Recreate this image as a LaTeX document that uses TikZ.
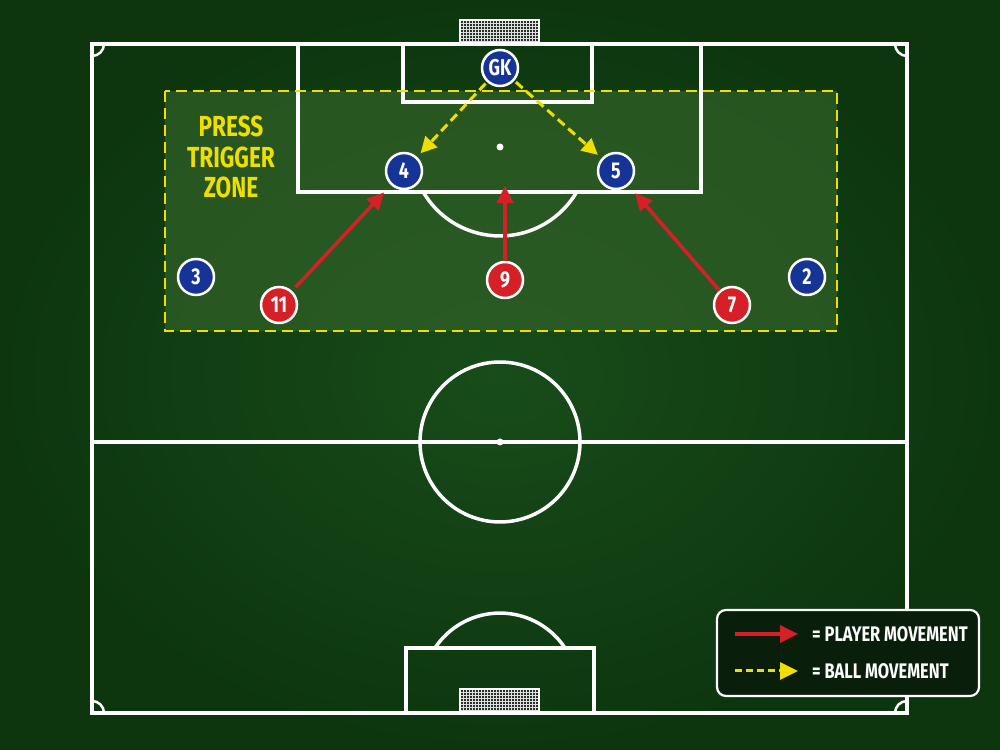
\documentclass[tikz,border=0pt]{standalone}
\usepackage{fontspec}
\setmainfont{Fira Sans}[FakeStretch=0.78]
\usetikzlibrary{arrows.meta}
\definecolor{bgin}{RGB}{24,76,26}
\definecolor{bgout}{RGB}{13,54,15}
\definecolor{zonefill}{RGB}{50,98,40}
\definecolor{kitblue}{RGB}{22,52,150}
\definecolor{kitred}{RGB}{214,32,40}
\definecolor{zoneyellow}{RGB}{240,222,0}
\definecolor{legendfill}{RGB}{10,30,12}
\definecolor{netfill}{RGB}{38,48,38}
\tikzset{pitchline/.style={white,line width=0.07cm}}
\tikzset{netline/.style={white!75!gray,line width=0.25pt}}
\tikzset{blueplayer/.style={circle,fill=kitblue,draw=white,line width=0.05cm,minimum size=0.72cm,inner sep=0pt,text=white,font=\bfseries\fontsize{13}{13}\selectfont}}
\tikzset{redplayer/.style={blueplayer,fill=kitred}}
\tikzset{playermove/.style={kitred,line width=0.07cm,-{Triangle[length=0.34cm,width=0.32cm]}}}
\tikzset{ballmove/.style={zoneyellow,line width=0.06cm,dash pattern=on 0.18cm off 0.1cm,-{Triangle[length=0.32cm,width=0.32cm]}}}

\begin{document}
\begin{tikzpicture}[x=0.02cm,y=0.02cm]
	\useasboundingbox (0,0) rectangle (1000,750);
	\shade[inner color=bgin,outer color=bgout] (0,0) rectangle (1000,750);
	% press trigger zone
	\fill[zonefill,fill opacity=0.7] (165,659) rectangle (837,419);
	% pitch markings
	\draw[pitchline] (92,37) rectangle (907,706);
	\draw[pitchline] (92,308) -- (907,308);
	\draw[pitchline] (500,308) circle (1.6cm);
	\fill[white] (500,308) circle (0.07cm);
	\draw[pitchline] (298,706) rectangle (701,558);
	\draw[pitchline] (403,706) rectangle (592,648);
	\fill[white] (500,603) circle (0.07cm);
	\draw[pitchline] (423.2,558) arc[start angle=210.4,end angle=329.6,radius=1.78cm];
	\draw[pitchline] (406,37) rectangle (594,102);
	\draw[pitchline] (565,102) arc[start angle=33.5,end angle=146.5,radius=1.56cm];
	% corners
	\draw[pitchline,line width=0.05cm] (104,706) arc[start angle=0,end angle=-90,radius=0.24cm];
	\draw[pitchline,line width=0.05cm] (895,706) arc[start angle=180,end angle=270,radius=0.24cm];
	\draw[pitchline,line width=0.05cm] (92,49) arc[start angle=90,end angle=0,radius=0.24cm];
	\draw[pitchline,line width=0.05cm] (895,37) arc[start angle=180,end angle=90,radius=0.24cm];
	% goals
	\foreach \y in {706,37}{
		\fill[netfill] (460,\y) rectangle (539,\y+24);
		\foreach \i in {1,...,25}{
			\draw[netline] (460+3*\i,\y) -- (460+3*\i,\y+24);
		}
		\foreach \j in {1,...,7}{
			\draw[netline] (460,\y+3*\j) -- (539,\y+3*\j);
		}
		\draw[pitchline,line width=0.05cm] (460,\y) rectangle (539,\y+24);
	}
	\draw[pitchline] (92,706) -- (907,706);
	\draw[pitchline] (92,37) -- (907,37);
	\draw[zoneyellow,line width=0.05cm,dash pattern=on 0.22cm off 0.12cm] (165,659) rectangle (837,419);
	\node[align=center,text=zoneyellow,font=\bfseries\fontsize{16.5}{17.6}\selectfont] (zonelabel) at (231,593) {PRESS\\TRIGGER\\ZONE};

	% players
	\node[blueplayer] (gk) at (500,682) {GK};
	\node[blueplayer] (p4) at (404,579) {4};
	\node[blueplayer] (p5) at (616,579) {5};
	\node[blueplayer] (p3) at (196,473) {3};
	\node[blueplayer] (p2) at (807,473) {2};
	\node[redplayer] (p11) at (279,445) {11};
	\node[redplayer] (p9) at (505,470) {9};
	\node[redplayer] (p7) at (732,445) {7};
	\coordinate (goalline) at (505,564);

	\draw[playermove,shorten <=0.1cm,shorten >=0.2cm] (p11) -- (p4);
	\draw[playermove,shorten >=0.2cm] (p7) -- (p5);
	\draw[playermove] (p9) -- (goalline);
	\draw[ballmove,shorten <=0.04cm,shorten >=0.1cm] (gk) -- (p4);
	\draw[ballmove,shorten <=0.04cm,shorten >=0.1cm] (gk) -- (p5);

	% legend
	\draw[white,line width=0.045cm,fill=legendfill,rounded corners=0.18cm] (717,54) rectangle (979,140);
	\coordinate (playerA) at (735,116);
	\coordinate (playerB) at (798,116);
	\coordinate (ballA) at (735,79);
	\coordinate (ballB) at (798,79);
	\draw[playermove,-{Triangle[length=0.36cm,width=0.34cm]}] (playerA) -- (playerB);
	\draw[ballmove,dash pattern=on 0.14cm off 0.08cm,-{Triangle[length=0.36cm,width=0.34cm]}] (ballA) -- (ballB);
	\node[anchor=west,text=white,font=\bfseries\fontsize{12}{12}\selectfont] (legplayer) at (806,116) {= PLAYER MOVEMENT};
	\node[anchor=west,text=white,font=\bfseries\fontsize{12}{12}\selectfont] (legball) at (806,79) {= BALL MOVEMENT};
\end{tikzpicture}
\end{document}
